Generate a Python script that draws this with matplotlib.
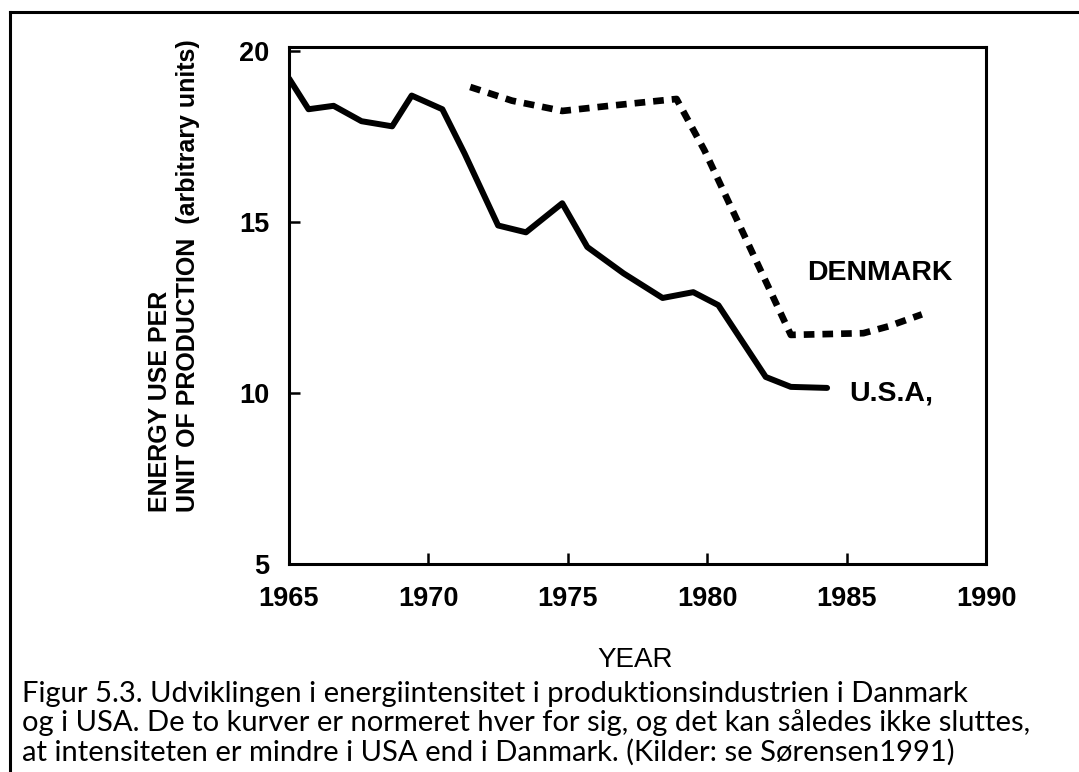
import matplotlib
matplotlib.use("Agg")
import matplotlib.pyplot as plt
from matplotlib.lines import Line2D

# ---- data ----
usa_year = [1965.0, 1965.7, 1966.6, 1967.6, 1968.7, 1969.4, 1970.5, 1971.3,
            1972.5, 1973.5, 1974.8, 1975.7, 1977.0, 1978.4, 1979.5, 1980.4,
            1982.1, 1983.0, 1984.3]
usa_val = [19.2, 18.3, 18.4, 17.95, 17.8, 18.7, 18.3, 17.0,
           14.9, 14.7, 15.55, 14.27, 13.5, 12.78, 12.95, 12.57,
           10.47, 10.18, 10.15]

dk_year = [1971.5, 1973.0, 1974.8, 1976.5, 1978.9, 1979.9, 1983.0, 1985.6, 1986.5, 1987.7]
dk_val = [18.95, 18.55, 18.25, 18.4, 18.6, 17.1, 11.7, 11.75, 11.95, 12.3]

x_ticks = [1965, 1970, 1975, 1980, 1985, 1990]
y_ticks = [5, 10, 15, 20]

caption = ("Figur 5.3. Udviklingen i energiintensitet i produktionsindustrien i Danmark\n"
           "og i USA. De to kurver er normeret hver for sig, og det kan således ikke sluttes,\n"
           "at intensiteten er mindre i USA end i Danmark. (Kilder: se Sørensen1991)")

plt.rcParams["font.family"] = ["Liberation Sans", "DejaVu Sans"]
plt.rcParams["font.weight"] = "bold"

W, H = 1079, 772
fig = plt.figure(figsize=(W / 100, H / 100), dpi=100)
ax = fig.add_axes([289 / W, 1 - 564 / H, 697 / W, 517 / H])

ax.plot(usa_year, usa_val, color="black", lw=4.3, solid_joinstyle="round",
        solid_capstyle="round")
ax.plot(dk_year, dk_val, color="black", lw=4.8, linestyle=(0, (1.6, 1.2)),
        dash_capstyle="butt")

ax.set_xlim(1965, 1990)
ax.set_ylim(5, 20.12)
ax.set_xticks(x_ticks)
ax.set_yticks(y_ticks)
ax.tick_params(direction="in", length=8, width=1.8, labelsize=19.5, pad=14)
ax.tick_params(axis="x", pad=16)
for s in ax.spines.values():
    s.set_linewidth(2.2)

ax.text(1983.6, 13.5, "DENMARK", fontsize=20.5, ha="left", va="center")
ax.text(1985.1, 10.0, "U.S.A,", fontsize=20.5, ha="left", va="center")

fig.text(635 / W, 1 - 660 / H, "YEAR", fontsize=20, ha="center", va="center",
         fontweight="normal")
fig.text(174 / W, 1 - 512 / H,
         "ENERGY USE PER\nUNIT OF PRODUCTION  (arbitrary units)",
         fontsize=18, rotation=90, ha="center", va="bottom",
         multialignment="left", linespacing=1.22)

fig.text(22 / W, 1 - 681 / H, caption, fontsize=21, ha="left", va="top",
         family=["Lato", "DejaVu Sans"], fontweight="normal", linespacing=1.1)

# outer frame (left and top edges visible)
fig.add_artist(Line2D([10 / W, 10 / W], [0, 1 - 12 / H], color="black", lw=2.2,
                      transform=fig.transFigure))
fig.add_artist(Line2D([10 / W, 1], [1 - 12 / H, 1 - 12 / H], color="black", lw=2.2,
                      transform=fig.transFigure))

fig.savefig("out.png", dpi=100)
